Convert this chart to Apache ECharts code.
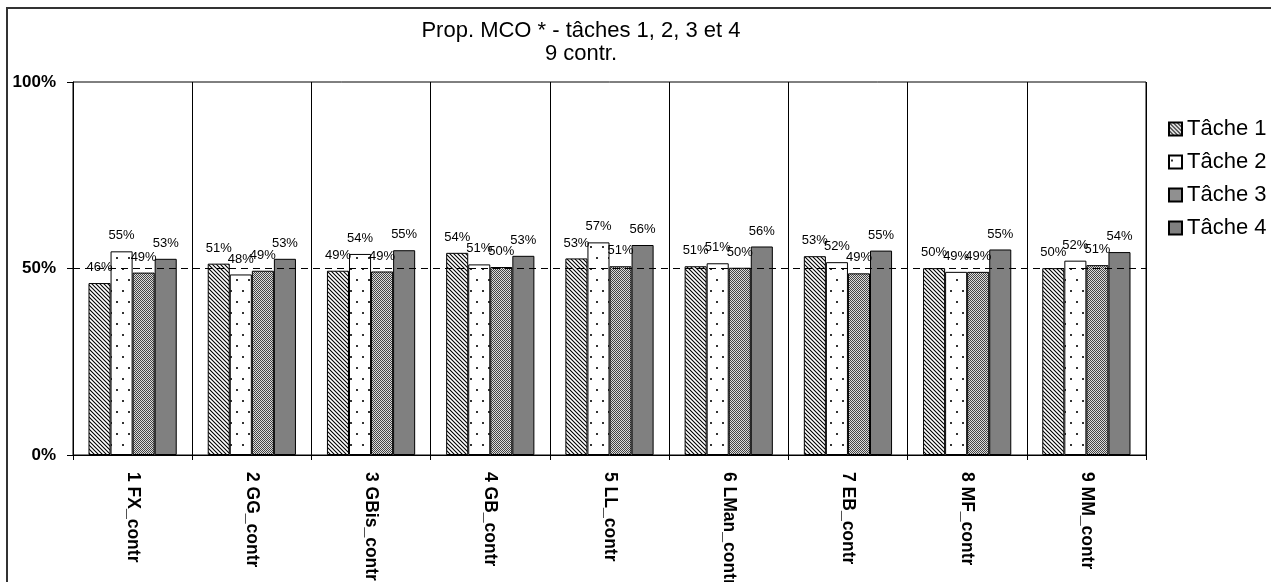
<!DOCTYPE html>
<html>
<head>
<meta charset="utf-8">
<script src="https://cdn.jsdelivr.net/npm/echarts@6/dist/echarts.min.js"></script>
<style>
html,body{margin:0;padding:0;background:#fff;}
#c{width:1271px;height:582px;}
</style>
</head>
<body>
<div id="c"></div>
<script>
const categories = ['1 FX_contr','2 GG_contr','3 GBis_contr','4 GB_contr','5 LL_contr','6 LMan_contr','7 EB_contr','8 MF_contr','9 MM_contr'];
const seriesNames = ['Tâche 1','Tâche 2','Tâche 3','Tâche 4'];
const tache1 = [46.1, 51.3, 49.4, 54.2, 52.7, 50.6, 53.3, 50.1, 50.1];
const tache2 = [54.6, 48.4, 53.9, 51.1, 57.0, 51.4, 51.7, 49.1, 52.1];
const tache3 = [48.9, 49.4, 49.2, 50.4, 50.6, 50.2, 48.7, 49.1, 50.9];
const tache4 = [52.6, 52.6, 54.9, 53.4, 56.3, 55.9, 54.8, 55.1, 54.4];
const yTicks = [0, 50, 100];
const titleText = 'Prop. MCO * - tâches 1, 2, 3 et 4\n9 contr.';

function tile(w, h, draw) {
  const c = document.createElement('canvas');
  c.width = w; c.height = h;
  const g = c.getContext('2d');
  draw(g, w, h);
  return { image: c, repeat: 'repeat' };
}
const patHatch = tile(4, 4, (g, w, h) => {
  g.fillStyle = '#fff'; g.fillRect(0, 0, w, h);
  g.strokeStyle = '#000'; g.lineWidth = 1.1;
  g.beginPath();
  g.moveTo(-1, -1); g.lineTo(w + 1, h + 1);
  g.moveTo(w - 1, -1); g.lineTo(w + 1, 1);
  g.moveTo(-1, h - 1); g.lineTo(1, h + 1);
  g.stroke();
});
const patDots = tile(12, 22, (g, w, h) => {
  g.fillStyle = '#fff'; g.fillRect(0, 0, w, h);
  g.fillStyle = '#333';
  g.fillRect(2, 4, 2, 2);
  g.fillRect(8, 15, 2, 2);
});
const patChecker = tile(2, 2, (g) => {
  g.fillStyle = '#dcdcdc'; g.fillRect(0, 0, 2, 2);
  g.fillStyle = '#444'; g.fillRect(0, 0, 1, 1); g.fillRect(1, 1, 1, 1);
});
const fills = [patHatch, patDots, patChecker, '#808080'];
const values = [tache1, tache2, tache3, tache4];

const FONT = 'Liberation Sans, Arial, sans-serif';
const chart = echarts.init(document.getElementById('c'), null, { renderer: 'canvas' });

const series = seriesNames.map((name, i) => {
  const s = {
    name: name,
    type: 'bar',
    data: values[i],
    barGap: '0%',
    barCategoryGap: '26%',
    itemStyle: { color: fills[i], borderColor: '#000', borderWidth: 1 },
    label: {
      show: true, position: 'top', distance: 9,
      fontFamily: FONT, fontSize: 13, color: '#000',
      formatter: p => Math.round(p.value) + '%'
    },
    emphasis: { disabled: true },
    animation: false
  };
  if (i === 0) {
    s.markLine = {
      silent: true, symbol: 'none', label: { show: false },
      lineStyle: { color: '#000', type: [7, 5], width: 1 },
      data: [{ yAxis: 50 }]
    };
  }
  return s;
});

chart.setOption({
  animation: false,
  backgroundColor: '#fff',
  textStyle: { fontFamily: FONT },
  title: {
    text: titleText,
    left: 581, top: 19, padding: 0, textAlign: 'center',
    textStyle: { fontFamily: FONT, fontSize: 22, fontWeight: 'normal', color: '#000', lineHeight: 23 }
  },
  graphic: [{
    type: 'rect', silent: true, z: -1,
    shape: { x: 7, y: 8, width: 1400, height: 700 },
    style: { fill: 'none', stroke: '#333', lineWidth: 2 }
  }],
  legend: {
    orient: 'vertical', left: 1163, top: 113,
    itemWidth: 13, itemHeight: 13, itemGap: 11,
    icon: 'rect',
    textStyle: { fontFamily: FONT, fontSize: 22, color: '#000' },
    data: seriesNames
  },
  grid: {
    left: 73, right: 125, top: 82, bottom: 127,
    outerBoundsMode: 'none', containLabel: false,
    show: true, borderColor: '#000', borderWidth: 1, backgroundColor: 'transparent'
  },
  xAxis: {
    type: 'category', data: categories,
    axisLine: { lineStyle: { color: '#000', width: 1 } },
    axisTick: { show: true, length: 5, lineStyle: { color: '#000' }, interval: 0 },
    splitLine: { show: true, interval: 0, lineStyle: { color: '#000', width: 1 } },
    axisLabel: {
      interval: 0, rotate: -90, margin: 17,
      fontFamily: FONT, fontSize: 17.5, fontWeight: 'bold', color: '#000'
    }
  },
  yAxis: {
    type: 'value', min: 0, max: 100, interval: 50,
    axisLine: { show: true, lineStyle: { color: '#000', width: 1 } },
    axisTick: { show: true, length: 6, lineStyle: { color: '#000' } },
    splitLine: { show: false },
    axisLabel: {
      margin: 17, fontFamily: FONT, fontSize: 17, fontWeight: 'bold', color: '#000',
      formatter: v => (yTicks.indexOf(v) >= 0 ? v + '%' : '')
    }
  },
  series: series
});
</script>
</body>
</html>
